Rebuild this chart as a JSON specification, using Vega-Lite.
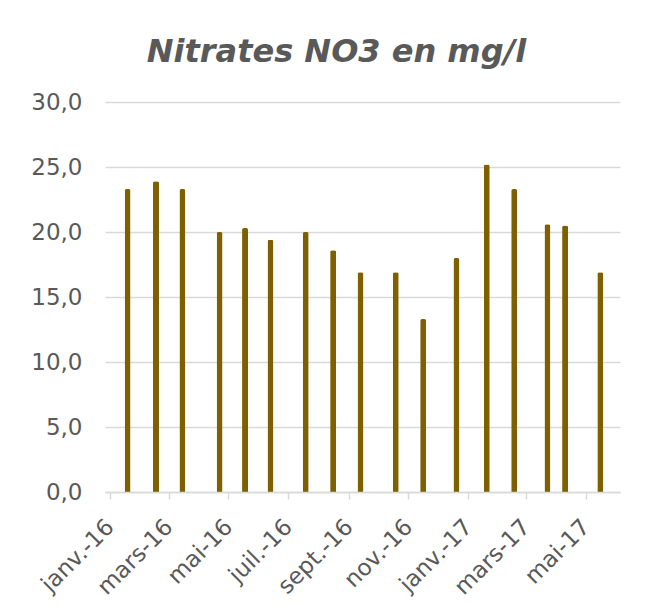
{
  "$schema": "https://vega.github.io/schema/vega-lite/v6.json",
  "width": 515,
  "height": 390,
  "autosize": {"type": "none"},
  "padding": {"left": 105, "top": 102, "right": 36, "bottom": 118},
  "background": "white",
  "title": {
    "text": "Nitrates NO3 en mg/l",
    "font": "DejaVu Sans",
    "fontSize": 32,
    "fontWeight": "bold",
    "fontStyle": "italic",
    "color": "#595959",
    "anchor": "middle",
    "frame": "group",
    "dx": -26,
    "baseline": "alphabetic",
    "offset": -3
  },
  "data": {
    "values": [
      {"date": "2016-01-19", "nitrates": 23.3},
      {"date": "2016-02-17", "nitrates": 23.9},
      {"date": "2016-03-15", "nitrates": 23.3},
      {"date": "2016-04-22", "nitrates": 20.0},
      {"date": "2016-05-18", "nitrates": 20.3},
      {"date": "2016-06-13", "nitrates": 19.4},
      {"date": "2016-07-19", "nitrates": 20.0},
      {"date": "2016-08-16", "nitrates": 18.6},
      {"date": "2016-09-13", "nitrates": 16.9},
      {"date": "2016-10-19", "nitrates": 16.9},
      {"date": "2016-11-16", "nitrates": 13.3},
      {"date": "2016-12-20", "nitrates": 18.0},
      {"date": "2017-01-20", "nitrates": 25.2},
      {"date": "2017-02-17", "nitrates": 23.3},
      {"date": "2017-03-23", "nitrates": 20.6},
      {"date": "2017-04-10", "nitrates": 20.5},
      {"date": "2017-05-16", "nitrates": 16.9}
    ]
  },
  "mark": {
    "type": "bar",
    "width": 6,
    "color": "#7f6000",
    "cornerRadiusTopLeft": 2,
    "cornerRadiusTopRight": 2
  },
  "encoding": {
    "x": {
      "field": "date",
      "type": "temporal",
      "scale": {
        "type": "utc",
        "domain": [
          {"year": 2016, "month": 1, "date": 1, "utc": true},
          {"year": 2017, "month": 5, "date": 31, "utc": true}
        ]
      },
      "axis": {
        "title": null,
        "orient": "bottom",
        "tickCount": {"interval": "month", "step": 2},
        "labelExpr": "['janv.','févr.','mars','avr.','mai','juin','juil.','août','sept.','oct.','nov.','déc.'][utcmonth(datum.value)] + '-' + utcFormat(datum.value, '%y')",
        "labelAngle": -45,
        "labelAlign": "right",
        "labelBaseline": "middle",
        "labelFont": "DejaVu Sans",
        "labelFontSize": 23,
        "labelColor": "#595959",
        "labelPadding": 24,
        "labelOverlap": false,
        "labelFlush": false,
        "labelBound": false,
        "tickSize": 7,
        "tickColor": "#d9d9d9",
        "tickWidth": 1.5,
        "domainColor": "#d9d9d9",
        "domainWidth": 1.5,
        "grid": false,
        "zindex": 1
      }
    },
    "y": {
      "field": "nitrates",
      "type": "quantitative",
      "scale": {"domain": [0, 30], "nice": false},
      "axis": {
        "title": null,
        "values": [0, 5, 10, 15, 20, 25, 30],
        "labelExpr": "replace(format(datum.value, '.1f'), '.', ',')",
        "labelFont": "DejaVu Sans",
        "labelFontSize": 23,
        "labelColor": "#595959",
        "labelPadding": 23,
        "ticks": false,
        "tickSize": 0,
        "domain": false,
        "gridColor": "#d9d9d9",
        "gridWidth": 1.5
      }
    }
  },
  "config": {
    "view": {"stroke": null}
  }
}
